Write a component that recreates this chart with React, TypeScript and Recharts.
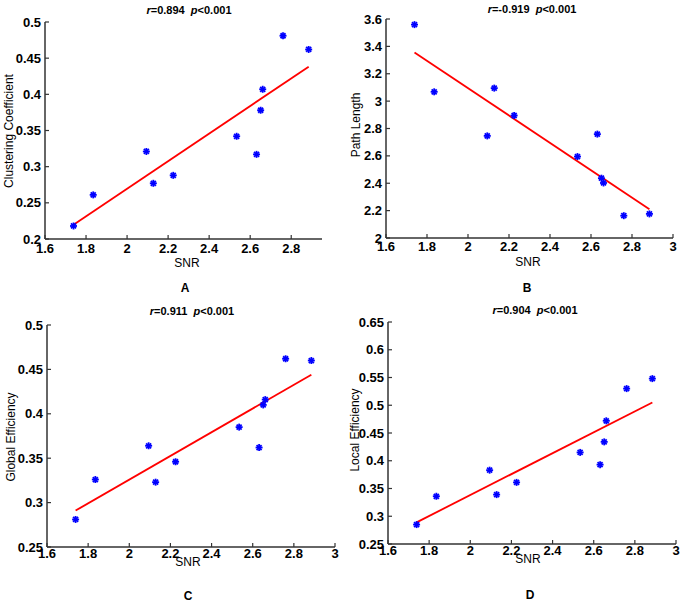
import React from 'react';
import { ScatterChart, Scatter, XAxis, YAxis } from 'recharts';

// SNR of the 11 subjects (same subjects in every panel)
const snr = [1.739, 1.835, 2.094, 2.128, 2.225, 2.534, 2.631, 2.651, 2.661, 2.76, 2.885];

const clustering = [0.218, 0.261, 0.321, 0.277, 0.288, 0.342, 0.317, 0.378, 0.407, 0.481, 0.462];
const pathLength = [3.559, 3.068, 2.746, 3.095, 2.895, 2.595, 2.759, 2.437, 2.402, 2.163, 2.176];
const globalEff = [0.281, 0.326, 0.364, 0.323, 0.346, 0.385, 0.362, 0.41, 0.416, 0.462, 0.46];
const localEff = [0.285, 0.336, 0.383, 0.339, 0.361, 0.415, 0.393, 0.434, 0.472, 0.53, 0.548];

// fitted line end points (at first and last SNR)
const fitX = [1.739, 2.885];
const fitClustering = [0.2197, 0.4383];
const fitPath = [3.356, 2.21];
const fitGlobal = [0.291, 0.444];
const fitLocal = [0.289, 0.505];

const xTicksA = [1.6, 1.8, 2, 2.2, 2.4, 2.6, 2.8];
const xTicks = [1.6, 1.8, 2, 2.2, 2.4, 2.6, 2.8, 3];
const yTicksA = [0.2, 0.25, 0.3, 0.35, 0.4, 0.45, 0.5];
const yTicksB = [2, 2.2, 2.4, 2.6, 2.8, 3, 3.2, 3.4, 3.6];
const yTicksC = [0.25, 0.3, 0.35, 0.4, 0.45, 0.5];
const yTicksD = [0.25, 0.3, 0.35, 0.4, 0.45, 0.5, 0.55, 0.6, 0.65];

const FONT = '"Liberation Sans", Arial, sans-serif';
const AXIS = '#333';

const toPoints = (xs: number[], ys: number[]) => xs.map((x, i) => ({ x, y: ys[i] }));

const Star = (props: any) => {
    const { cx, cy } = props;
    return (
        <g stroke="#0000ff" strokeWidth={1.8}>
            <line x1={cx - 3.5} y1={cy} x2={cx + 3.5} y2={cy} />
            <line x1={cx} y1={cy - 3.5} x2={cx} y2={cy + 3.5} />
            <line x1={cx - 2.5} y1={cy - 2.5} x2={cx + 2.5} y2={cy + 2.5} />
            <line x1={cx - 2.5} y1={cy + 2.5} x2={cx + 2.5} y2={cy - 2.5} />
        </g>
    );
};

const XTick = ({ x, y, payload, dy }: any) => (
    <g>
        <line x1={x} y1={y} x2={x} y2={y - 4} stroke={AXIS} strokeWidth={1.2} />
        <text x={x} y={y + dy} textAnchor="middle" fontSize={13} fontWeight="bold" fill="#000" fontFamily={FONT}>
            {payload.value}
        </text>
    </g>
);

const YTick = ({ x, y, payload }: any) => (
    <g>
        <line x1={x} y1={y} x2={x + 4} y2={y} stroke={AXIS} strokeWidth={1.2} />
        <text x={x - 4} y={y + 4.5} textAnchor="end" fontSize={13} fontWeight="bold" fill="#000" fontFamily={FONT}>
            {payload.value}
        </text>
    </g>
);

interface PanelProps {
    left: number;
    top: number;
    margin: { top: number; right: number; bottom: number; left: number };
    xDomain: [number, number];
    xTickList: number[];
    yDomain: [number, number];
    yTickList: number[];
    values: number[];
    fit: number[];
    tickDy: number;
}

const Panel = ({ left, top, margin, xDomain, xTickList, yDomain, yTickList, values, fit, tickDy }: PanelProps) => (
    <div style={{ position: 'absolute', left, top }}>
        <ScatterChart width={343} height={300} margin={margin}>
            <XAxis
                type="number"
                dataKey="x"
                domain={xDomain}
                ticks={xTickList}
                allowDataOverflow
                height={20}
                tickSize={0}
                tickMargin={0}
                tickLine={false}
                tick={<XTick dy={tickDy} />}
                axisLine={{ stroke: AXIS, strokeWidth: 1.5 }}
            />
            <YAxis
                type="number"
                dataKey="y"
                domain={yDomain}
                ticks={yTickList}
                allowDataOverflow
                width={40}
                tickSize={0}
                tickMargin={0}
                tickLine={false}
                tick={<YTick />}
                axisLine={{ stroke: AXIS, strokeWidth: 1.5 }}
            />
            <Scatter
                data={toPoints(fitX, fit)}
                fill="#ff0000"
                line={{ stroke: '#ff0000', strokeWidth: 1.8 }}
                lineType="joint"
                shape={() => <g />}
                isAnimationActive={false}
            />
            <Scatter data={toPoints(snr, values)} shape={<Star />} isAnimationActive={false} />
        </ScatterChart>
    </div>
);

const Txt = ({ x, y, children, size = 12, bold = false, rotate = false }: any) => (
    <div
        style={{
            position: 'absolute',
            left: x,
            top: y,
            transform: `translate(-50%, -50%)${rotate ? ' rotate(-90deg)' : ''}`,
            whiteSpace: 'pre',
            fontFamily: FONT,
            fontSize: size,
            fontWeight: bold ? 'bold' : 'normal',
            color: '#000',
            lineHeight: 1,
        }}
    >
        {children}
    </div>
);

const Title = ({ x, y, r }: { x: number; y: number; r: string }) => (
    <Txt x={x} y={y} size={11} bold>
        <i>r</i>={r}{'  '}<i>p</i>{'<0.001'}
    </Txt>
);

export default function App() {
    return (
        <div style={{ position: 'absolute', left: 0, top: 0, width: 686, height: 602, background: '#fff' }}>
            <Panel
                left={0}
                top={0}
                margin={{ top: 22, right: 21, bottom: 41, left: 5 }}
                xDomain={[1.6, 2.95]}
                xTickList={xTicksA}
                yDomain={[0.2, 0.5]}
                yTickList={yTicksA}
                values={clustering}
                fit={fitClustering}
                tickDy={13.5}
            />
            <Panel
                left={343}
                top={0}
                margin={{ top: 19, right: 13, bottom: 42, left: 3 }}
                xDomain={[1.6, 3]}
                xTickList={xTicks}
                yDomain={[2, 3.6]}
                yTickList={yTicksB}
                values={pathLength}
                fit={fitPath}
                tickDy={12.5}
            />
            <Panel
                left={0}
                top={300}
                margin={{ top: 25, right: 8, bottom: 33, left: 7 }}
                xDomain={[1.6, 3]}
                xTickList={xTicks}
                yDomain={[0.25, 0.5]}
                yTickList={yTicksC}
                values={globalEff}
                fit={fitGlobal}
                tickDy={11}
            />
            <Panel
                left={343}
                top={300}
                margin={{ top: 22, right: 10, bottom: 36, left: 5 }}
                xDomain={[1.6, 3]}
                xTickList={xTicks}
                yDomain={[0.25, 0.65]}
                yTickList={yTicksD}
                values={localEff}
                fit={fitLocal}
                tickDy={11}
            />

            <Title x={189} y={10} r="0.894" />
            <Title x={532} y={9} r="-0.919" />
            <Title x={192} y={311} r="0.911" />
            <Title x={535} y={310} r="0.904" />

            <Txt x={9} y={131} rotate>Clustering Coefficient</Txt>
            <Txt x={356} y={125} rotate>Path Length</Txt>
            <Txt x={11} y={437} rotate>Global Efficiency</Txt>
            <Txt x={355} y={430} rotate>Local Efficiency</Txt>

            <Txt x={187} y={263}>SNR</Txt>
            <Txt x={528} y={262}>SNR</Txt>
            <Txt x={188} y={562}>SNR</Txt>
            <Txt x={528} y={559}>SNR</Txt>

            <Txt x={185} y={288} bold>A</Txt>
            <Txt x={527} y={288} bold>B</Txt>
            <Txt x={188} y={596} bold>C</Txt>
            <Txt x={530} y={595} bold>D</Txt>
        </div>
    );
}
